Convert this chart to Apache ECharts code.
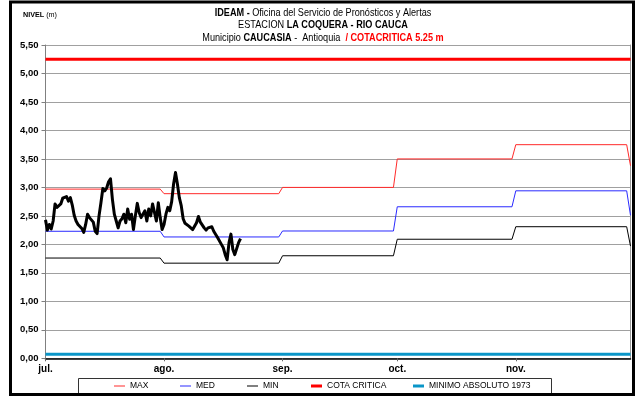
<!DOCTYPE html>
<html>
<head>
<meta charset="utf-8">
<script src="https://cdn.jsdelivr.net/npm/echarts@6/dist/echarts.min.js"></script>
<style>
  html, body { margin: 0; padding: 0; background: #fff; }
  #chart { width: 635px; height: 396px; }
</style>
</head>
<body>
<div id="chart"></div>
<script>
// Axis: days counted from 1 July; month ticks at the first day of each month.
const monthLabels = ['jul.', 'ago.', 'sep.', 'oct.', 'nov.'];
const monthStartDay = [0, 31, 62, 92, 123];
const lastDay = 153; // 1 December

// Monthly reference levels (m), jul..nov, then the 1 December value.
const maxLevels = [2.97, 2.89, 3.00, 3.50, 3.75, 3.38];
const medLevels = [2.23, 2.13, 2.235, 2.66, 2.94, 2.51];
const minLevels = [1.76, 1.67, 1.80, 2.09, 2.31, 1.97];

// Fixed reference levels (m).
const cotaCritica = 5.25;
const minimoAbsoluto1973 = 0.07;

// Observed level (m), two readings per day starting 1 July.
const obsStepDays = 0.5;
const obsLevels = [
  2.43, 2.25, 2.35, 2.27, 2.41, 2.71, 2.65, 2.65, 2.71, 2.81,
  2.78, 2.84, 2.76, 2.82, 2.69, 2.51, 2.41, 2.35, 2.32, 2.28,
  2.21, 2.35, 2.53, 2.47, 2.50, 2.39, 2.23, 2.19, 2.50, 2.73,
  2.98, 2.94, 2.99, 3.10, 3.15, 2.79, 2.53, 2.41, 2.29, 2.41,
  2.45, 2.53, 2.38, 2.62, 2.44, 2.53, 2.26, 2.50, 2.72, 2.56,
  2.47, 2.45, 2.59, 2.41, 2.62, 2.50, 2.71, 2.68, 2.41, 2.73,
  2.47, 2.26, 2.35, 2.53, 2.65, 2.59, 2.75, 3.06, 3.26, 3.06,
  2.82, 2.68, 2.45, 2.37, 2.35, 2.32, 2.29, 2.26, 2.29, 2.38,
  2.49, 2.39, 2.37, 2.29, 2.25, 2.29, 2.27, 2.31, 2.23, 2.26,
  2.12, 2.09, 2.00, 1.94, 1.82, 1.73, 2.03, 2.18, 1.91, 1.82,
  1.85, 2.03, 2.10
];

// Y scale; tick labels use a decimal comma.
const yMin = 0, yMax = 5.5, yStep = 0.5;

const FONT = '"Liberation Sans", Arial, sans-serif';

// Monthly constant levels become flat segments from the first to the last day of each month.
function monthlySteps(levels) {
  const pts = [];
  for (let i = 0; i < monthStartDay.length; i++) {
    const start = monthStartDay[i];
    const end = (i + 1 < monthStartDay.length ? monthStartDay[i + 1] : lastDay) - 1;
    pts.push([start, levels[i]], [end, levels[i]]);
  }
  pts.push([lastDay, levels[levels.length - 1]]);
  return pts;
}
function flat(value) {
  return [[0, value], [lastDay, value]];
}
const obsData = obsLevels.map((v, i) => [i * obsStepDays, v]);

// One legend block per entry, each with its own stroke thickness.
const legendDefs = [
  { name: 'MAX', left: 114, thick: 1 },
  { name: 'MED', left: 180, thick: 1 },
  { name: 'MIN', left: 247, thick: 1 },
  { name: 'COTA CRITICA', left: 311, thick: 3 },
  { name: 'MINIMO ABSOLUTO 1973', left: 413, thick: 3 }
];

// Header lines, drawn horizontally condensed.
const titleLines = [
  { text: '{b|IDEAM -} Oficina del Servicio de Pronósticos y Alertas', y: 12.5 },
  { text: 'ESTACION {b|LA COQUERA - RIO CAUCA}', y: 25 },
  { text: 'Municipio {b|CAUCASIA} -  Antioquia  {r|/ COTACRITICA 5.25 m}', y: 37.5 }
];

const chart = echarts.init(document.getElementById('chart'), null, { renderer: 'canvas' });

const richStyles = {
  n: { font: '11px ' + FONT, fill: '#000' },
  b: { font: 'bold 11px ' + FONT, fill: '#000' },
  r: { font: 'bold 11px ' + FONT, fill: '#ff0000' }
};

const headerGraphics = titleLines.map(t => ({
  type: 'text',
  x: 323,
  y: t.y,
  scaleX: 0.83,
  silent: true,
  style: {
    text: t.text,
    font: '11px ' + FONT,
    fill: '#000',
    align: 'center',
    verticalAlign: 'middle',
    rich: richStyles
  }
}));

chart.setOption({
  animation: false,
  backgroundColor: '#fff',
  grid: { left: 45.5, right: 4.5, top: 45, bottom: 37.7, containLabel: false },
  legend: legendDefs.map(d => ({
    data: [d.name],
    left: d.left,
    top: 381.5,
    padding: 0,
    icon: 'rect',
    itemWidth: 11,
    itemHeight: d.thick,
    selectedMode: false,
    textStyle: { fontFamily: FONT, fontSize: 8.5, color: '#000' }
  })),
  xAxis: {
    type: 'value',
    min: 0,
    max: lastDay,
    axisLine: { show: true, lineStyle: { color: '#000', width: 1.5 } },
    axisTick: { show: true, customValues: monthStartDay, length: 3, inside: false, lineStyle: { color: '#666' } },
    axisLabel: {
      customValues: monthStartDay,
      formatter: v => monthLabels[monthStartDay.indexOf(v)] || '',
      fontFamily: FONT, fontSize: 10, fontWeight: 'bold', color: '#000', margin: 6
    },
    splitLine: { show: false }
  },
  yAxis: [{
    type: 'value',
    min: yMin,
    max: yMax,
    interval: yStep,
    axisLine: { show: true, lineStyle: { color: '#808080', width: 1 } },
    axisTick: { show: true, length: 4, lineStyle: { color: '#808080' } },
    axisLabel: {
      formatter: v => v.toFixed(2).replace('.', ','),
      fontFamily: FONT, fontSize: 9.5, fontWeight: 'bold', color: '#000', margin: 7
    },
    splitLine: { show: true, lineStyle: { color: '#404040', width: 1, type: [1, 1] } }
  }, {
    type: 'value',
    position: 'right',
    min: yMin,
    max: yMax,
    interval: yStep,
    axisLine: { show: true, lineStyle: { color: '#9a9a9a', width: 1 } },
    axisTick: { show: false },
    axisLabel: { show: false },
    splitLine: { show: false }
  }],
  graphic: headerGraphics.concat([
    {
      type: 'text', x: 23, y: 15, scaleX: 0.9, silent: true,
      style: {
        text: '{b|NIVEL} (m)',
        font: '8px ' + FONT, fill: '#000', verticalAlign: 'middle',
        rich: {
          n: { font: '8px ' + FONT, fill: '#000' },
          b: { font: 'bold 8px ' + FONT, fill: '#000' }
        }
      }
    },
    {
      type: 'rect', z: 100, silent: true,
      shape: { x: 78.5, y: 378.5, width: 473, height: 16 },
      style: { fill: 'none', stroke: '#333', lineWidth: 1 }
    },
    {
      type: 'rect', z: 101, silent: true,
      shape: { x: 10.5, y: 2, width: 623, height: 392.5 },
      style: { fill: 'none', stroke: '#000', lineWidth: 3 }
    }
  ]),
  series: [
    {
      name: 'MAX', type: 'line', data: monthlySteps(maxLevels), symbol: 'none',
      lineStyle: { color: '#ff2a2a', width: 1 }, itemStyle: { color: '#ff2a2a' }, z: 3
    },
    {
      name: 'MED', type: 'line', data: monthlySteps(medLevels), symbol: 'none',
      lineStyle: { color: '#2a2aff', width: 1 }, itemStyle: { color: '#2a2aff' }, z: 3
    },
    {
      name: 'MIN', type: 'line', data: monthlySteps(minLevels), symbol: 'none',
      lineStyle: { color: '#000', width: 1 }, itemStyle: { color: '#000' }, z: 3
    },
    {
      name: 'COTA CRITICA', type: 'line', data: flat(cotaCritica), symbol: 'none',
      lineStyle: { color: '#ff0000', width: 3 }, itemStyle: { color: '#ff0000' }, z: 3
    },
    {
      name: 'MINIMO ABSOLUTO 1973', type: 'line', data: flat(minimoAbsoluto1973), symbol: 'none',
      lineStyle: { color: '#0a96c8', width: 3 }, itemStyle: { color: '#0a96c8' }, z: 3
    },
    {
      name: 'NIVEL', type: 'line', data: obsData, symbol: 'none',
      lineStyle: { color: '#000', width: 3, join: 'round' }, z: 4
    }
  ]
});
</script>
</body>
</html>
